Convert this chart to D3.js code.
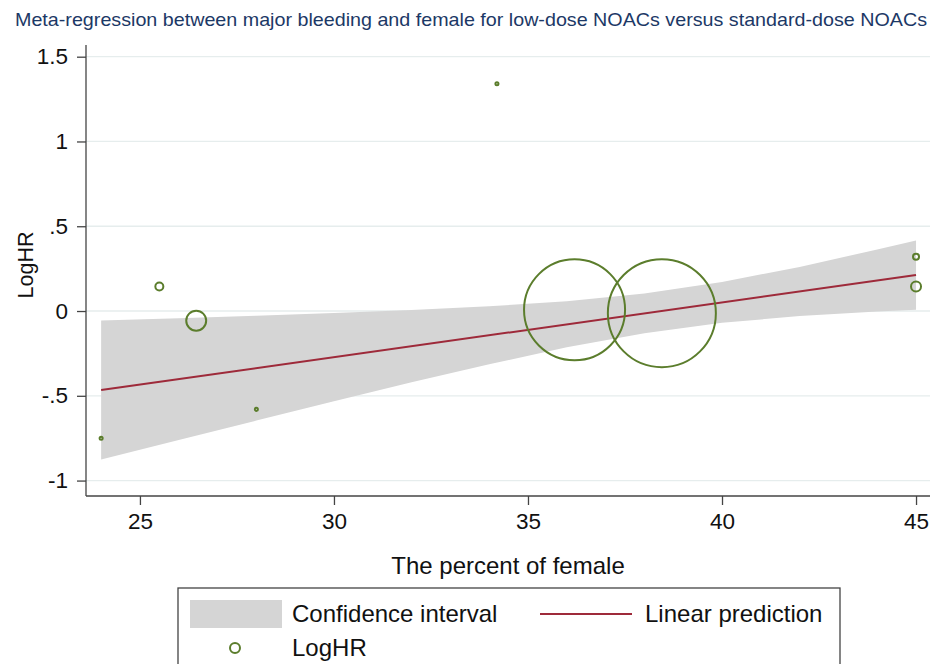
<!DOCTYPE html>
<html>
<head>
<meta charset="utf-8">
<script src="https://cdn.jsdelivr.net/npm/d3@7"></script>
<style>
  body { margin: 0; background: #fff; }
  text { font-family: "Liberation Sans", Arial, sans-serif; }
</style>
</head>
<body>
<div class="chart"></div>
<script>
// data
const female = [24, 25.5, 26.45, 28, 34.2, 36.2, 38.45, 45, 45];
const logHR = [-0.75, 0.145, -0.057, -0.58, 1.34, 0.007, -0.013, 0.32, 0.145];
const weight = [0.08, 0.55, 3.4, 0.08, 0.08, 87.5, 100, 0.31, 0.86];

const ciX = [24, 26, 28, 30, 32, 34, 36, 38, 40, 42, 44, 45];
const ciLow = [-0.876, -0.76, -0.646, -0.532, -0.42, -0.314, -0.214, -0.131, -0.069, -0.03, -0.003, 0.008];
const ciHigh = [-0.056, -0.042, -0.028, -0.012, 0.006, 0.028, 0.058, 0.103, 0.171, 0.26, 0.363, 0.416];

const fitX = [24, 45];
const fitY = [-0.466, 0.212];

const xTicks = [25, 30, 35, 40, 45];
const yTicks = [-1, -0.5, 0, 0.5, 1, 1.5];

// Mesures
const size = { width: 939, height: 664 };
const plot = { left: 86, right: 930, top: 45, bottom: 496 };

const svg = d3.select(".chart")
  .append("svg")
  .attr("width", size.width)
  .attr("height", size.height);

const x = d3.scaleLinear().domain([23.61, 45.36]).range([plot.left, plot.right]);
const y = d3.scaleLinear().domain([-1.091, 1.569]).range([plot.bottom, plot.top]);
const r = d3.scaleSqrt().domain([0, 100]).range([0, 54]);

// title
svg.append("text")
  .attr("x", 471)
  .attr("y", 26)
  .attr("text-anchor", "middle")
  .attr("font-size", 18.5)
  .attr("textLength", 912)
  .attr("lengthAdjust", "spacingAndGlyphs")
  .attr("fill", "#1c3866")
  .text("Meta-regression between major bleeding and female for low-dose NOACs versus standard-dose NOACs");

// grid
svg.append("g")
  .selectAll("line")
  .data(yTicks)
  .enter()
  .append("line")
  .attr("x1", plot.left)
  .attr("x2", plot.right)
  .attr("y1", (d) => y(d))
  .attr("y2", (d) => y(d))
  .attr("stroke", "#e6eded")
  .attr("stroke-width", 1.3);

// CI band
const ci = ciX.map((d, i) => ({ x: d, lo: ciLow[i], hi: ciHigh[i] }));
const area = d3.area()
  .x((d) => x(d.x))
  .y0((d) => y(d.lo))
  .y1((d) => y(d.hi));
svg.append("path")
  .datum(ci)
  .attr("d", area)
  .attr("fill", "#d5d5d5");

// fit line
const line = d3.line().x((d) => x(d[0])).y((d) => y(d[1]));
svg.append("path")
  .datum(fitX.map((d, i) => [d, fitY[i]]))
  .attr("d", line)
  .attr("fill", "none")
  .attr("stroke", "#9e2a3a")
  .attr("stroke-width", 2);

// study markers
const studies = female.map((d, i) => ({ x: d, y: logHR[i], w: weight[i] }));
svg.append("g")
  .selectAll("circle")
  .data(studies)
  .enter()
  .append("circle")
  .attr("cx", (d) => x(d.x))
  .attr("cy", (d) => y(d.y))
  .attr("r", (d) => r(d.w))
  .attr("fill", "none")
  .attr("stroke", "#5b7d2c")
  .attr("stroke-width", 2);

// axes
const fmt = (d) => String(d).replace("0.", ".");
const yAxis = svg.append("g")
  .attr("transform", `translate(${plot.left},0)`)
  .call(d3.axisLeft(y).tickValues(yTicks).tickFormat(fmt).tickSize(9).tickPadding(9));
const xAxis = svg.append("g")
  .attr("transform", `translate(0,${plot.bottom})`)
  .call(d3.axisBottom(x).tickValues(xTicks).tickSize(9).tickPadding(8));

[xAxis, yAxis].forEach((a) => {
  a.select(".domain").attr("stroke", "#444").attr("stroke-width", 1.3);
  a.selectAll(".tick line").attr("stroke", "#444").attr("stroke-width", 1.3);
  a.selectAll(".tick text")
    .attr("font-size", 22.5)
    .attr("font-family", "Liberation Sans, Arial, sans-serif")
    .attr("fill", "#111");
});
yAxis.select(".domain").attr("d", `M0,${plot.top}V${plot.bottom}`);
xAxis.select(".domain").attr("d", `M${plot.left},0H${plot.right}`);

// axis titles
svg.append("text")
  .attr("transform", "translate(33,265) rotate(-90)")
  .attr("text-anchor", "middle")
  .attr("font-size", 21.5)
  .attr("fill", "#111")
  .text("LogHR");
svg.append("text")
  .attr("x", 508)
  .attr("y", 574)
  .attr("text-anchor", "middle")
  .attr("font-size", 24)
  .attr("fill", "#111")
  .text("The percent of female");

// legend
const legend = svg.append("g");
legend.append("rect")
  .attr("x", 178)
  .attr("y", 588)
  .attr("width", 662)
  .attr("height", 90)
  .attr("fill", "#fff")
  .attr("stroke", "#444")
  .attr("stroke-width", 1.3);
legend.append("rect")
  .attr("x", 190)
  .attr("y", 600)
  .attr("width", 92)
  .attr("height", 28)
  .attr("fill", "#d5d5d5");
legend.append("text")
  .attr("x", 292)
  .attr("y", 622)
  .attr("font-size", 24)
  .attr("fill", "#111")
  .text("Confidence interval");
legend.append("line")
  .attr("x1", 540)
  .attr("x2", 632)
  .attr("y1", 614)
  .attr("y2", 614)
  .attr("stroke", "#9e2a3a")
  .attr("stroke-width", 2);
legend.append("text")
  .attr("x", 645)
  .attr("y", 622)
  .attr("font-size", 24)
  .attr("fill", "#111")
  .text("Linear prediction");
legend.append("circle")
  .attr("cx", 235)
  .attr("cy", 648)
  .attr("r", 5)
  .attr("fill", "none")
  .attr("stroke", "#5b7d2c")
  .attr("stroke-width", 2);
legend.append("text")
  .attr("x", 292)
  .attr("y", 656)
  .attr("font-size", 24)
  .attr("fill", "#111")
  .text("LogHR");
</script>
</body>
</html>
